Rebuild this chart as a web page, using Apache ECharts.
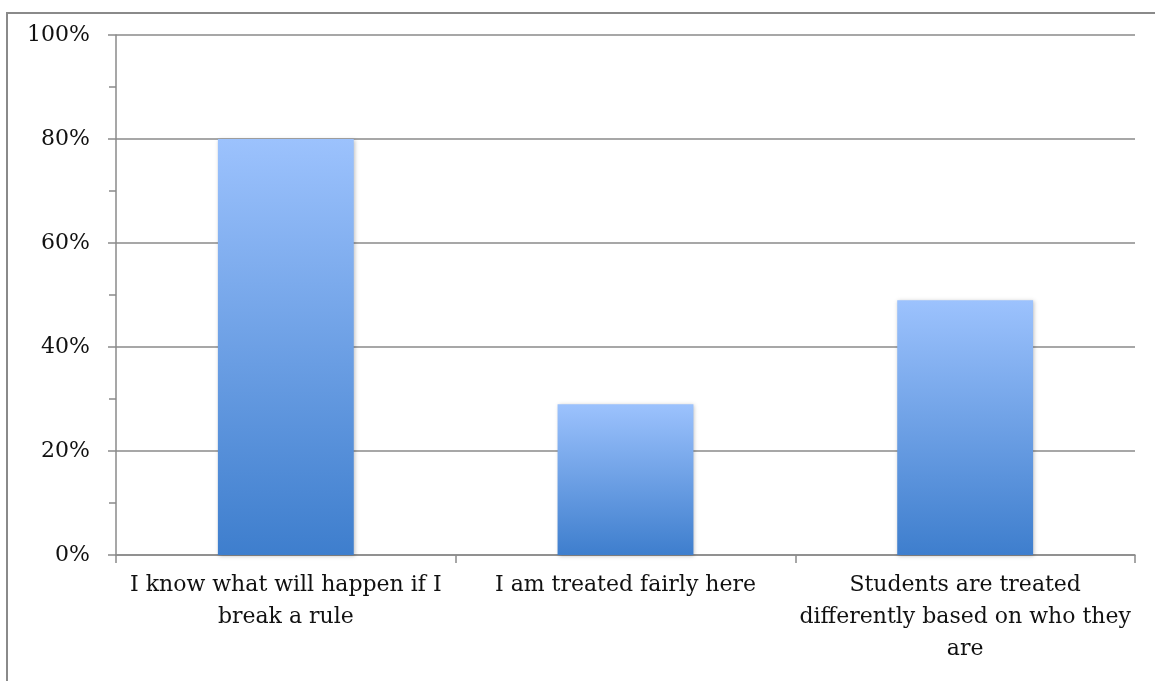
<!DOCTYPE html>
<html>
<head>
<meta charset="utf-8">
<script src="https://cdn.jsdelivr.net/npm/echarts@6/dist/echarts.min.js"></script>
<style>
html,body{margin:0;padding:0;background:#fff;}
#chart{width:1155px;height:681px;}
</style>
</head>
<body>
<div id="chart"></div>
<script>
const categories = [
  "I know what will happen if I\nbreak a rule",
  "I am treated fairly here",
  "Students are treated\ndifferently based on who they\nare"
];
const values = [80, 29, 49];
const yTicks = [0, 20, 40, 60, 80, 100];

const chart = echarts.init(document.getElementById('chart'));
const font = '"DejaVu Serif", "Liberation Serif", serif';
chart.setOption({
  animation: false,
  backgroundColor: '#fff',
  graphic: [{
    type: 'rect',
    shape: {x: 7, y: 13, width: 1200, height: 720},
    style: {fill: 'none', stroke: '#8a8a8a', lineWidth: 2},
    silent: true
  }],
  grid: {left: 116, right: 20, top: 35, bottom: 126, containLabel: false},
  xAxis: {
    type: 'category',
    data: categories,
    axisLine: {lineStyle: {color: '#8a8a8a', width: 1.5}},
    axisTick: {show: true, length: 8, lineStyle: {color: '#8a8a8a', width: 1.5}},
    axisLabel: {
      color: '#111', fontFamily: font, fontSize: 22, lineHeight: 32,
      margin: 14, interval: 0, align: 'center'
    }
  },
  yAxis: {
    type: 'value',
    min: yTicks[0], max: yTicks[yTicks.length - 1], interval: 20,
    axisLine: {show: true, lineStyle: {color: '#8a8a8a', width: 1.5}},
    axisTick: {show: true, length: 8, lineStyle: {color: '#8a8a8a', width: 1.5}},
    minorTick: {show: true, splitNumber: 2, length: 7, lineStyle: {color: '#8a8a8a', width: 1.5}},
    splitLine: {show: true, lineStyle: {color: '#8a8a8a', width: 1.5}},
    axisLabel: {
      color: '#111', fontFamily: font, fontSize: 22, margin: 26,
      formatter: v => v + '%'
    }
  },
  series: [{
    type: 'bar',
    data: values,
    barWidth: '40%',
    itemStyle: {
      color: new echarts.graphic.LinearGradient(0, 0, 0, 1, [
        {offset: 0, color: '#9cc2fd'},
        {offset: 1, color: '#3e7ecd'}
      ]),
      shadowColor: 'rgba(0,0,0,0.25)',
      shadowBlur: 4,
      shadowOffsetX: 1,
      shadowOffsetY: 1
    }
  }]
});
</script>
</body>
</html>
